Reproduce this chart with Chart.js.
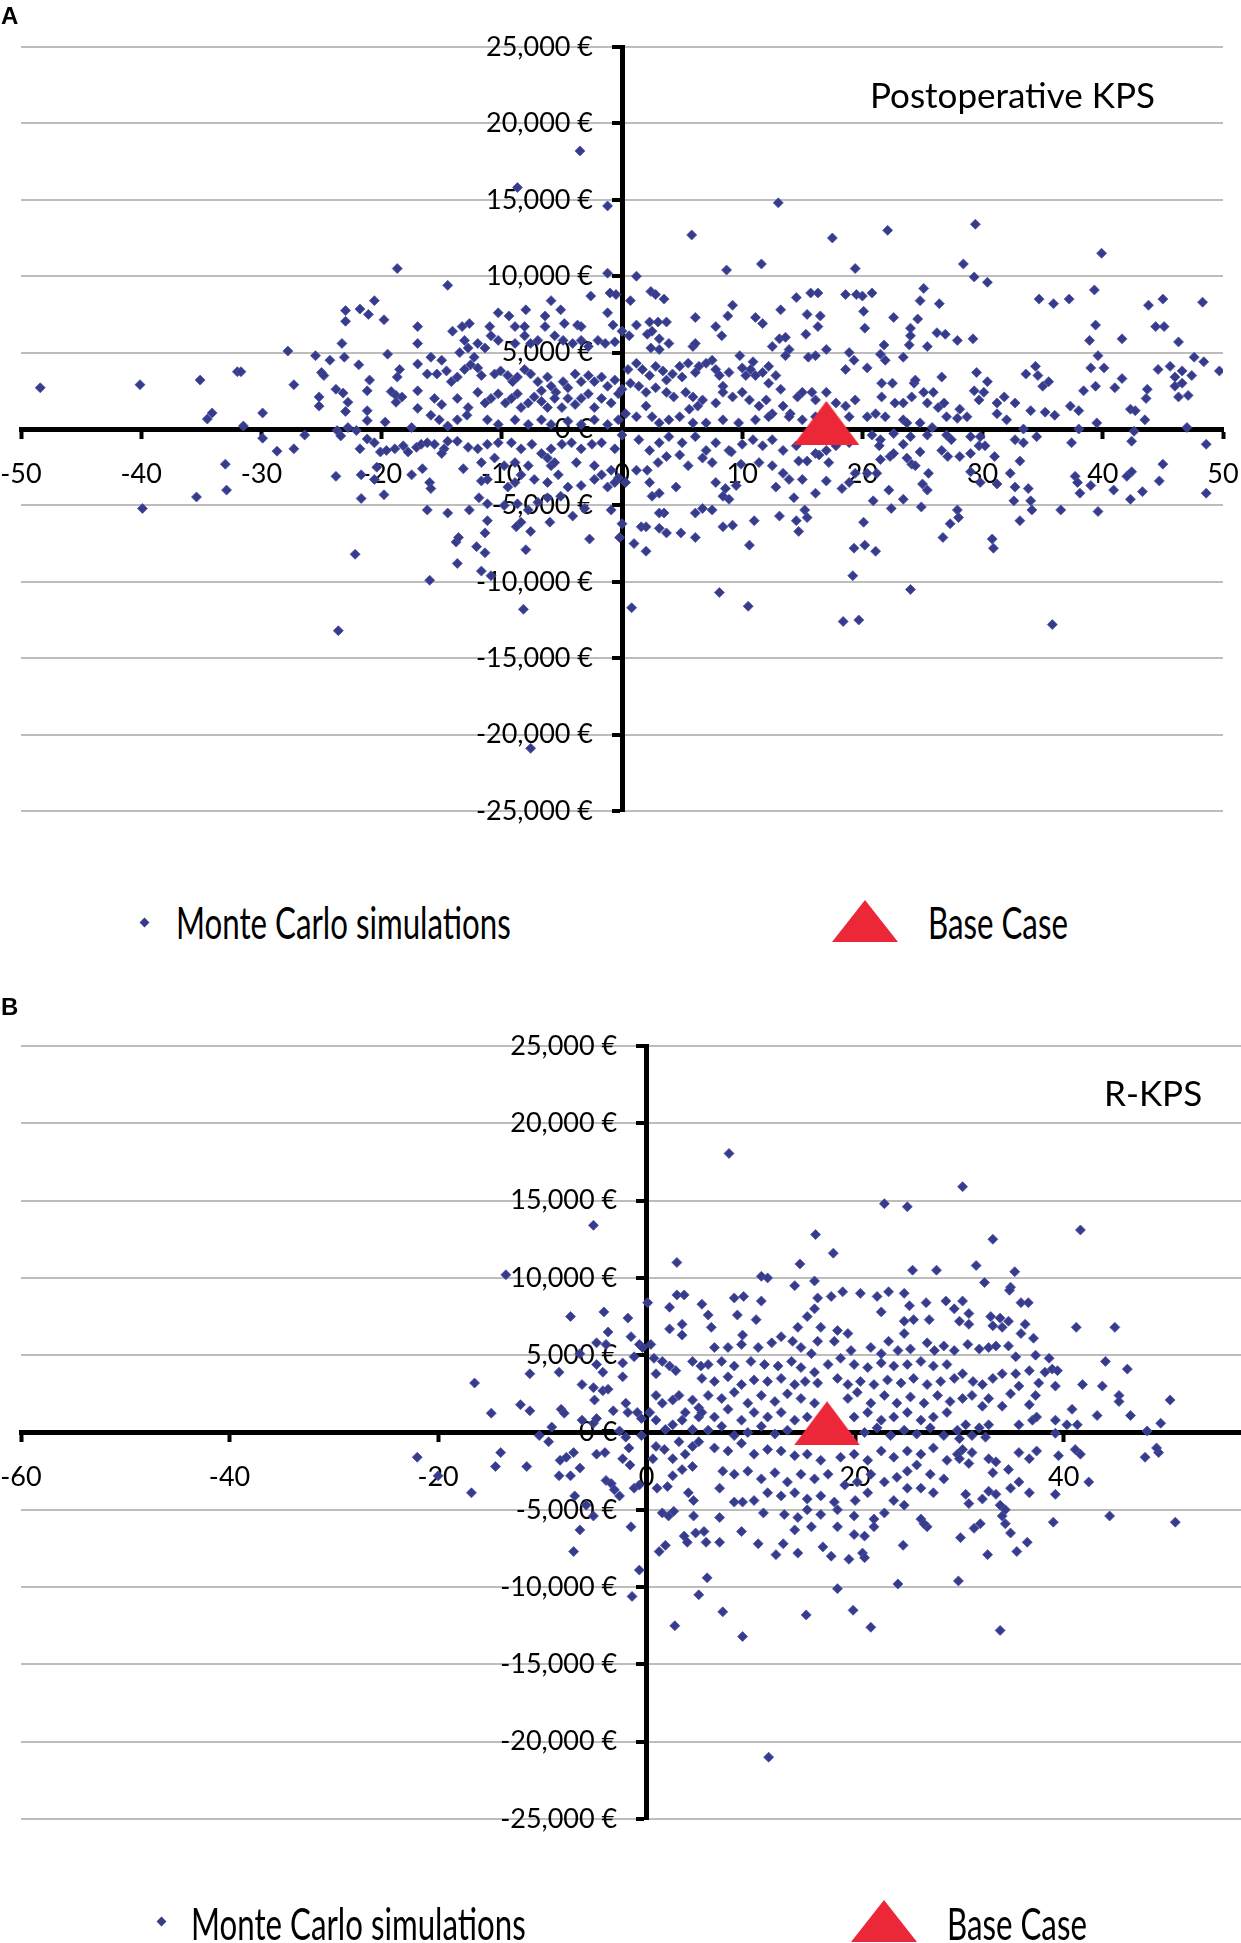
<!DOCTYPE html>
<html>
<head>
<meta charset="utf-8">
<script src="https://cdn.jsdelivr.net/npm/chart.js@4.4.1/dist/chart.umd.min.js"></script>
<style>
  html, body { margin:0; padding:0; background:#fff; }
  body { width:1241px; height:1943px; position:relative; overflow:hidden; font-family: Lato, "Liberation Sans", sans-serif; }
  canvas { position:absolute; left:0; }
  .txt { position:absolute; white-space:nowrap; line-height:1; color:#000; }
  .letter { font-family:"Liberation Sans", Arial, sans-serif; font-weight:bold; font-size:24px; }
  .title { font-family:Lato, sans-serif; font-size:35px; }
  .leg { font-family:Lato, sans-serif; font-size:44px; transform-origin:0 0; transform:scaleX(0.71); }
  .dia { position:absolute; width:7px; height:7px; background:#363b8c; transform:rotate(45deg); }
  svg.tri { position:absolute; }
</style>
</head>
<body>
<canvas id="chartA" width="1241" height="860" style="top:0;width:1241px;height:860px"></canvas>
<canvas id="chartB" width="1241" height="983" style="top:960px;width:1241px;height:983px"></canvas>

<div class="txt letter" style="left:1px;top:4px">A</div>
<div class="txt title" style="left:870px;top:77px">Postoperative KPS</div>
<div class="dia" style="left:141px;top:919px"></div>
<div class="txt leg" style="left:176px;top:900px">Monte Carlo simulations</div>
<svg class="tri" style="left:832px;top:900px" width="66" height="42"><polygon points="33,0 66,42 0,42" fill="#ec2838"/></svg>
<div class="txt leg" style="left:928px;top:900px">Base Case</div>

<div class="txt letter" style="left:1px;top:995px">B</div>
<div class="txt title" style="left:1104px;top:1075px">R-KPS</div>
<div class="dia" style="left:158px;top:1918px"></div>
<div class="txt leg" style="left:191px;top:1901px">Monte Carlo simulations</div>
<svg class="tri" style="left:851px;top:1900px" width="66" height="42"><polygon points="33,0 66,42 0,42" fill="#ec2838"/></svg>
<div class="txt leg" style="left:947px;top:1901px">Base Case</div>

<script>
// ---------- DATA (x = effect difference, y = cost difference in thousand €) ----------
const baseCaseA = [[17.0, 0.4]];
const baseCaseB = [[17.3, 0.6]];

const postopSimsLeft = [
[-48.4,2.7],[-40.1,2.9],[-39.9,-5.2],[-35.1,3.2],[-32,3.75],[-31.7,3.75],[-34.5,0.65],[-34.1,1.05],[-31.5,0.2],[-29.9,1.05],[-29.9,-0.6],[-27.8,5.1],[-27.3,2.9],[-26.4,-0.4],[-27.3,-1.3],[-28.7,-1.45],[-33,-2.3],[-32.9,-4.0],[-35.4,-4.45],[-25.5,4.8],[-24.3,4.5],[-25,3.7],[-24.8,3.5],[-25.2,2.1],[-25.2,1.5],[-23.8,2.6],[-23.2,2.35],[-23.3,5.6],[-23,7.75],[-23,7.05],[-23.1,4.7],[-22.8,1.75],[-23,1.15],[-22.8,0.1],[-23.7,-0.1],[-23.4,-0.45],[-22.1,-0.1],[-21.8,7.85],[-21.1,7.5],[-20.6,8.4],[-19.8,7.15],[-21.9,4.2],[-21,3.2],[-21.2,2.5],[-21.2,1.2],[-21.2,0.55],[-19.5,4.9],[-18.7,10.5],[-18.5,3.9],[-18.7,3.4],[-19.2,2.45],[-18.8,2.2],[-18.3,2.1],[-18.8,1.75],[-19.7,0.45],[-17.5,0.1],[-17,6.7],[-17,5.6],[-17,4.25],[-17,2.5],[-17,1.35],[-21.2,-0.65],[-20.6,-0.9],[-21.8,-1.3],[-20.1,-1.5],[-19.6,-1.4],[-18.9,-1.3],[-18.2,-1.1],[-17.8,-1.5],[-17.1,-1.2],[-20.4,-2.5],[-20.6,-3.3],[-21.7,-3.0],[-23.8,-3.1],[-17.5,-3.0],[-21.7,-4.55],[-19.8,-4.3],[-22.2,-8.2],[-23.6,-13.2]
];
const postopSimsCentreLeft = [
[-3.5,18.2],[-8.7,15.8],[-1.2,14.6],[-14.5,9.4],[-1.2,10.2],[-2.6,8.7],[-1,8.9],[-0.5,8.8],[-5.9,8.4],[-5.1,7.8],[-8,7.8],[-10.3,7.6],[-9.4,7.4],[-1.2,7.6],[-6.4,7.4],[-12.7,6.9],[-14.1,6.4],[-13.3,6.7],[-11,6.7],[-8.9,6.7],[-8.1,6.7],[-4.8,6.9],[-3.7,6.8],[-3.4,6.7],[-6.4,6.7],[-0.75,6.8],
[-10.9,6.1],[-10.3,5.8],[-13.1,5.8],[-12,5.6],[-12.8,5.3],[-12.3,4.7],[-11.4,5.3],[-15.9,4.7],[-15,4.5],[-13.5,5.0],
[-8.1,6.1],[-7.6,5.6],[-7,5.8],[-8.9,5.6],[-5.6,6.1],[-4.9,5.8],[-4.1,5.6],[-3.4,5.8],[-2.8,5.4],[-2,5.8],[-1.4,5.6],[-0.6,5.7],
[-16.2,3.6],[-15.4,3.6],[-14.6,3.8],[-14.2,3.1],[-13.7,3.4],[-13.1,3.9],[-12.6,4.2],[-12,4],[-11.7,3.5],[-10.6,3.6],[-10.1,3.8],[-9.5,3.5],[-9.1,3.1],[-8.7,3.4],
[-8.1,3.9],[-7.6,3.6],[-7,3.1],[-6.7,2.5],[-6.2,3.4],[-5.9,2.8],[-5.5,2.4],[-4.9,3.1],[-4.5,2.7],[-3.9,3.6],[-3.4,3.1],[-2.8,3.5],[-2.3,3.1],[-1.7,3.4],[-1.2,2.8],[-0.6,3.2],
[-15.6,2],[-15,1.6],[-13.7,2],[-12.8,1.4],[-12,2.4],[-11.4,1.7],[-10.9,2],[-10.3,2.3],[-9.7,1.7],[-9.2,2],[-8.7,2.3],[-8.4,1.4],[-7.8,1.7],[-7.3,2.1],[-6.7,1.8],[-6.2,1.4],[-5.6,2],[-5,1.4],[-4.5,2],[-3.9,1.6],[-3.4,2],[-2.8,2.3],[-2.3,1.4],[-1.7,2],[-0.9,1.7],[-0.3,2.3],
[-15.9,0.9],[-15.2,0.6],[-14.5,0.2],[-13.7,0.6],[-12.9,0.9],[-11.2,0.6],[-10.3,0.3],[-8.9,0.6],[-7.8,0.3],[-6.7,0.6],[-5.9,0.3],[-4.5,0.5],[-3.4,0.3],[-2.3,0.6],[-1.2,0.3],[-0.3,0.6],
[-16.7,-1],[-16.2,-0.9],[-15.6,-1],[-14.8,-1.3],[-14.5,-0.8],[-13.7,-0.8],[-12.8,-1.2],[-12,-1.3],[-11.2,-1],[-10.3,-0.9],[-9.2,-0.9],[-8.4,-1.3],[-7.5,-1],[-6.7,-1.6],[-5.9,-1.3],[-5,-1],[-4.2,-0.9],[-3.4,-1.3],[-2.5,-1],[-1.7,-0.9],[-0.6,-1.3],
[-15,-1.6],[-13.2,-2.6],[-11.7,-2.2],[-10.6,-1.9],[-9.8,-2.4],[-8.9,-2.2],[-7.8,-2.4],[-6.2,-1.9],[-5.9,-2.4],[-5.6,-2.2],[-3.8,-2.2],[-2.3,-2.4],[-1.7,-3],[-0.9,-2.7],[-0.3,-3.2],
[-16.6,-2.6],[-16,-3.5],[-15.9,-3.9],
[-11.7,-3.4],[-11.2,-3.3],[-9.5,-3.8],[-8.9,-3.5],[-8.4,-3],[-7.3,-3.3],[-6.2,-3.5],[-5.3,-3],[-4.5,-3.8],[-3.4,-3.7],[-2.3,-3.3],[-1.2,-3.8],[-0.6,-3.5],
[-16.2,-5.3],[-14.5,-5.5],[-12.7,-5.3],[-11.9,-4.5],[-11.2,-4.9],
[-9.8,-5],[-8.7,-4.9],[-7.8,-5.3],[-7,-4.8],[-6.2,-4.5],[-5.1,-4.4],[-4.1,-5.7],[-3.1,-5.2],[-0.9,-5.3],
[-11.2,-6],[-8.8,-6.4],[-8.4,-6.1],[-7.6,-6.7],[-6,-6.1],
[-13.8,-7.4],[-13.6,-7.1],[-11.4,-6.8],[-2.7,-7.2],[-0.2,-7.1],
[-12.1,-7.7],[-11.4,-8.1],[-8,-7.9],
[-13.7,-8.8],[-11.7,-9.3],[-10.9,-9.6],[-16,-9.9],[-8.2,-11.8],[-7.6,-20.9]
];
const postopSimsCentreRight = [
[13,14.8],[5.8,12.7],[17.5,12.5],[8.7,10.4],[11.6,10.8],[19.4,10.5],[1.2,10],[2.4,9],[2.8,8.8],[3.5,8.5],[0.7,8.4],[6.1,7.3],[9.2,8.1],[8.8,7.4],[7.8,6.7],[8.3,6.1],[11.1,7.3],[11.7,6.9],[13.2,7.8],[14.5,8.6],[15.7,8.9],[16.3,8.9],[15.4,7.5],[16.5,7.4],[16.3,6.7],[15.3,6.2],[18.6,8.8],[19.5,8.8],[1.2,6.8],[2.3,7],[3,7],[3.7,7],[2.1,6.2],[2.5,6.4],[3.1,5.9],[0,6.4],[0.6,6.1],[3.9,5.6],[3.1,5.2],[2.4,5.3],[5.9,5.4],[6.1,5.6],[12.5,5.4],[13.1,5.9],[13.6,6],[13.9,5.2],[13.6,4.8],[17,5.2],[18.9,5],[19.3,4.5],[18.6,3.9],[15.5,4.7],[16.1,4.8],[9.8,4.8],
[7.5,4.5],[7.8,3.9],[7,4.3],[6.4,4.1],[6.1,3.7],[5.5,4.3],[4.8,4.1],[5,3.4],
[10.9,4.4],[10.7,3.9],[10,4],[10.3,3.5],[11.1,3.5],[11.7,3.7],[12.2,4.1],[12.8,3.5],[12.2,3],[13.2,2.6],[8.9,3.7],[8.4,2.8],[8.1,3.5],
[0.5,3.9],[1.2,4.3],[1.7,3.9],[2.3,3.5],[2.8,4.1],[3.4,3.8],[3.7,3.2],[4.2,3.6],
[0,2.6],[0.7,3],[1.4,2.8],[2,2.4],[2.8,2.7],[3.7,2.4],[4.3,2.1],
[5.3,2.4],[5.9,2.1],[6.7,1.9],[6.3,1.5],[5.6,1.3],[7.8,1.7],[8.4,2.4],[9.2,2.1],[10,2.4],[10.6,1.9],[11.4,1.5],[12,1.9],[12.5,1],[13.4,1.5],[14,1],[14.6,2.1],[15,2.4],[15.8,2.4],[16.1,1.9],[17,2.4],[17.8,1.7],[18.6,1.5],[19.4,1.9],
[0.3,1],[1.2,0.8],[2,1.5],[2.5,0.8],[3.1,0.4],[3.9,0.6],[4.8,0.8],[5.9,0.4],[7,0.4],[8.4,0.6],[9.7,0.4],[11.1,0.6],[12.2,0.8],[13.9,0.8],[15,0.6],[16.1,0.8],[18.9,0.8],
[0,-0.4],[1.4,-0.7],[2.3,-1.4],[3.1,-0.9],[3.9,-0.5],[5,-0.9],[6.1,-0.5],[7,-1.4],[7.8,-0.9],[8.9,-1.4],[10,-1],[10.9,-0.7],[11.7,-1.1],[12.5,-0.7],[13.4,-1.4],[14.5,-1.1],[16.1,-1.6],[17,-1.4],[17.8,-1.1],[18.9,-0.9],
[1.2,-2.7],[2.1,-2.7],[3,-2.2],[3.7,-1.8],[4.8,-1.7],[5.5,-2.4],[6.7,-1.9],[7.5,-2.2],[9.1,-1.5],[9.9,-2.3],[11.4,-2.2],[12.5,-2.4],[13.4,-2.9],[14.7,-2.1],[15.4,-2.1],[16.4,-1.7],[17.2,-2.2],[18.9,-3.5],[19.4,-2.9],
[0.3,-3.5],[2.3,-3.5],[3.1,-4.2],[4.5,-3.8],[7.8,-3.5],[8.6,-3.9],[9.5,-3.7],[12.8,-3.8],[13.9,-3.3],[15,-3.3],[16.1,-4.2],[17,-3.4],[18.3,-3.9],
[2.5,-4.4],[8.4,-4.4],[8.9,-4.6],[14.3,-4.5],
[3.5,-5.5],[3.1,-5.5],[6.1,-5.5],[6.7,-5.2],[7.5,-5.3],[13.1,-5.7],[14.5,-6],[15.2,-5.3],[15.4,-5.8],
[0,-6.2],[1.6,-6.4],[2,-6.4],[3.1,-6.5],[3.7,-6.8],[4.9,-6.8],[8.4,-6.4],[9.2,-6.3],[11,-6],[14.7,-6.7],
[1,-7.5],[2,-8],[6.1,-7.1],[10.6,-7.6],[19.3,-7.8],
[19.2,-9.6],[8.1,-10.7],[0.8,-11.7],[10.5,-11.6],[18.4,-12.6],[19.7,-12.5]
];
const postopSimsRight = [
[22.1,13],[29.4,13.4],[39.9,11.5],[28.4,10.8],[29.3,9.95],[30.4,9.6],[20.8,8.9],[20,8.7],[20.1,7.7],[20.2,6.6],[25.1,9.2],[24.8,8.4],[22.6,7.3],[24.6,7.2],[26.4,8.2],[24,6.6],[24,6.1],[23.9,5.5],[25.4,5.4],[26.2,6.3],[26.9,6.2],[27.9,5.8],[29.2,5.9],[34.7,8.5],[35.9,8.2],[37.2,8.5],[39.3,9.1],[39.4,6.8],[38.9,5.8],[41.6,5.9],[43.8,8.1],[45,8.5],[44.4,6.7],[45.1,6.7],[46.3,5.7],[48.3,8.3],
[21.8,5.5],[21.5,4.9],[21.9,4.5],[20.4,4],[23.4,4.7],[39.6,4.8],[39,4],[40.1,4],[47.6,4.7],[48.4,4.4],[49.7,3.8],[44.6,3.9],[45.6,4.1],[46.6,3.8],[46,3.4],[47.4,3.5],
[33.6,3.6],[34.4,4.1],[34.6,3.5],[35,2.8],[35.5,3.1],[26.6,3.4],[29.5,3.7],[30.4,3.1],[22.5,3],[21.6,3],[24.3,3],[24.4,3.2],
[29.3,2.5],[30.1,2.4],[29.7,1.9],[31.2,1.7],[31.8,2.1],[32.7,1.7],[25.1,2.4],[25.9,2.4],[25.4,1.7],[24.1,2.1],[23.4,1.7],[22.7,1.7],[21.6,2.1],
[26.8,1.7],[26.3,1.4],[28.1,1.3],[27,0.8],[27.9,0.7],[28.7,0.8],[38.4,2.5],[39.4,2.8],[41,2.7],[41.6,3.3],[43.7,2.6],[43.6,2],[46,2.8],[46.3,2.1],[47.1,2.2],[46.6,3],
[37.3,1.5],[38,1.2],[42.3,1.3],[42.7,1.2],[43.5,0.6],[34,1.2],[35.2,1.1],[36,0.9],
[20.4,0.8],[21.1,1],[21.9,0.8],[23.4,0.6],[24.8,0.4],[23.7,0.4],[25.8,0.1],[31.2,1],[32,0.6],[33.4,0],[38,0],[39.5,0.4],[47,0.1],
[20.8,-0.4],[21.5,-0.7],[22.6,-0.3],[24,-0.5],[25.4,-0.4],[27,-0.4],[27.4,-0.7],[29,-0.5],[29.8,-0.5],[32.7,-0.7],[33.4,-0.9],[34.5,-0.5],[37.4,-0.9],[42.4,-0.8],[42.6,-0.15],
[21.4,-1.1],[23.4,-1],[24.8,-1.5],[26.6,-1.4],[27.1,-1.8],[28.1,-1.8],[29,-1.6],[29.7,-1.1],[30.2,-1.1],[31,-1.8],[48.6,-1],
[21.5,-2],[22.3,-1.8],[23.7,-1.9],[24.1,-2.3],[22.6,-1.6],[24.4,-2.4],[33.1,-2.1],
[21.2,-2.9],[20.4,-2.9],[25.5,-2.9],[25,-3.6],[25.4,-4],[22.2,-4],
[29,-2.8],[29.8,-3.5],[31.2,-3.6],[32.3,-2.9],[32.7,-3.8],[33.8,-3.9],
[37.7,-3.1],[37.9,-3.5],[39,-3.7],[38.1,-4.2],
[40.9,-4],[42,-3.1],[42.4,-2.8],[42.3,-4.6],[43.3,-4.1],[44.7,-3.4],[45,-2.3],[48.6,-4.2],
[20.9,-4.7],[22.4,-5.2],[23.4,-4.6],[24.9,-5.1],
[32.6,-4.7],[34,-4.7],[34.1,-5.3],[33.1,-6],[36.5,-5.3],[39.6,-5.4],
[27.9,-5.3],[28,-5.8],[27.3,-6.2],[26.7,-7.1],
[20.1,-6.1],[20.2,-7.6],[21.1,-8],[30.8,-7.2],[30.9,-7.8],[24,-10.5],[35.8,-12.8]
];

const rkpsSimsLeft = [
[-22,-1.6],[-20,-2.8],[7.9,18.05],[11.7,-21],
[-5.1,13.4],[-13.5,10.2],[2.9,11],[0.1,8.4],[-7.3,7.5],[-4.1,7.8],[-1.8,7.4],[-3.7,6.5],[-16.5,3.2],[-14.9,1.25],[-12.1,1.8],[-11.2,1.4],[-11.2,3.8],[-8.4,3.9],[-6.4,5.1],[-4.8,5.8],[-3.9,5.7],[-4.8,4.4],[-4.2,3.9],[-2.3,4.5],[-2.3,3.6],[-1.5,6.2],[-0.7,5.7],[-1.2,4.9],[-0.4,5.5],[0.4,5.7],
[-6.2,3.1],[-5.1,2.9],[-5,2.1],[-4.2,2.7],[-3.7,2.8],[-8.2,1.5],[-7.9,1.25],[-10.3,-0.2],[-9.4,-0.6],[-9.1,0.35],[-6.2,0.8],[-5.1,0.6],[-4.8,0.9],[-3.2,1.4],[-2,1.9],[-1.8,1.3],[-0.9,1.3],[-0.5,0.9],[-2.6,0.1],[-0.5,-0.2],[-2,-0.3],
[-14,-1.3],[-14.5,-2.2],[-11.5,-2.2],[-16.8,-3.9],[-8.3,-1.8],[-7.7,-1.6],[-7,-1.3],[-8.4,-2.8],[-7.3,-2.8],[-6.4,-2.3],[-4.8,-1.4],[-4,-1.3],[-3.9,-3.1],[-3.4,-3.3],[-3.1,-3.7],[-2.3,-1.7],[-1.6,-2.1],[-1.7,-1],
[-6.9,-4.1],[-5.8,-4.7],[-5.1,-5.4],[-6.4,-6.3],[-1.2,-3.6],[-0.7,-3.4],[-2.6,-4.1],[-1.5,-6.1],[-7,-7.7],[-0.7,-8.9],[-1.4,-10.6],
[2.2,8.1],[2.9,8.9],[3.6,8.9],[2.2,6.7],[3.4,7],[3.4,6.3],[0.7,4.8],[0.9,3.8],[1.5,4.6],[2.2,4.3],[2.8,4],[4.4,4.6],[5.2,4.3],
[0.9,2.4],[1.5,1.9],[2.5,2.1],[3.1,2.4],[3.7,1.3],[4.4,2.1],[5,1.6],[0.3,1.3],[0.9,0.8],[1.8,0.2],[2.5,0.5],[3.4,0.8],[4.4,0.2],[5,1],
[0.9,-0.9],[1.7,-1.1],[2.5,-1.7],[3.1,-0.6],[3.7,-1.4],[4.4,-0.9],[5,-0.6],[0.6,-1.7],[2.5,-2.8],[3.4,-2.4],[4.4,-2.2],
[1,-3.6],[2,-3.5],[4,-3.9],[4.5,-4.4],[1.5,-5.2],[2.1,-5.4],[2.6,-5.1],[4.5,-5.4],[3.6,-6.7],[3.9,-7.1],[4.7,-6.5],[1.2,-7.7],[1.8,-7.3],[5,-10.5],[2.7,-12.5]
];
const rkpsSimsCentre = [
[22.8,14.8],[25,14.6],[16.2,12.8],[17.9,11.6],[14.7,10.9],[11,10.1],[11.6,10],[16.1,9.8],[25.5,10.5],[27.8,10.5],[14.2,9.5],[8.4,8.7],[9.3,8.8],[11,8.5],[16.4,8.7],[17.7,8.8],[18.8,9.1],[20.5,9],[22.1,8.8],[23.2,9.1],[24.7,9],[25.2,8.2],[26.8,8.4],[28.7,8.5],[29.5,8],[5.3,8.3],[5.9,7.6],[6.2,6.8],[8.7,7.6],[10.5,7.3],[22.5,7.8],[15.4,7.5],[16.1,8],[24.7,7.2],[25.6,7.3],[27.1,7.3],
[14.5,6.8],[16.7,6.8],[18.3,6.6],[19.3,6.4],[9.2,6.3],[12.9,6.2],[14,5.9],[16.4,5.9],[18,5.9],[23.2,5.9],[24.7,6.4],[26.9,5.8],[28.5,5.6],
[6.5,5.5],[7.8,5.5],[9.1,5.7],[10.7,5.5],[12,5.8],[14.8,5.5],[15.8,5.1],[19.6,5.3],[21.5,5.5],[22.5,5.1],[24.1,5.3],[25.3,5.4],[27.6,5.3],[29.5,5.3],
[5.9,4.4],[7.2,4.6],[8.4,4.3],[10,4.6],[11.3,4.4],[12.6,4.3],[13.9,4.6],[14.8,4.2],[16.1,3.9],[17.4,4.4],[18.6,4.8],[19.9,4.4],[21.2,4.2],[22.5,4.5],[23.7,4.3],[25,4.4],[26.3,4.6],[27.5,4.3],[28.8,4.4],
[5.3,3.5],[6.5,3.3],[7.8,3.6],[9.1,3.1],[10.3,3.4],[11.6,3.3],[12.9,3.5],[14.2,3.1],[15.2,3.3],[16.4,3.2],[18.3,3.5],[19.3,3.1],[20.5,3.3],[21.8,3.1],[23.1,3.4],[24.4,3.2],[25.6,3.5],[26.9,3.1],[28.2,3.3],[29.5,3.5],
[5.9,2.4],[7.2,2.2],[8.4,2.6],[9.7,1.9],[11,2.4],[12.3,2],[13.5,2.5],[14.8,2.2],[16.1,1.9],[19.3,2.2],[20.2,2.6],[21.5,1.9],[22.8,2.4],[24,1.9],[25.3,2.3],[26.6,1.9],[27.9,2.4],[29.1,2],
[5.3,1.3],[6.5,1],[7.8,1.5],[9.1,0.8],[10.3,1.3],[11.6,1],[12.9,1.3],[14.2,0.8],[15.4,1],[19.9,1],[21.2,1.3],[22.5,0.8],[23.7,1],[25,1.3],[26.3,0.8],[27.5,1],[28.8,1.3],
[5.9,0.15],[7.2,0.4],[8.4,-0.2],[9.7,0],[11,0.4],[12.3,-0.1],[13.5,0.15],[20.9,0],[22.1,0.3],[23.4,-0.2],[24.7,0.15],[25.9,-0.1],[27.2,0.3],[28.5,-0.2],[29.8,0.15],
[6.5,-1],[7.8,-1.2],[9.1,-0.7],[10.3,-1.4],[11.6,-1.1],[12.9,-1.2],[14.2,-1.5],[15.4,-1.4],[16.7,-1.8],[18.6,-1.6],[19.9,-1.4],[21.2,-1.8],[22.5,-1.2],[23.7,-1.6],[25,-1.2],[26.3,-1.4],[27.5,-1],[28.8,-1.8],[29.8,-1.4],
[7.3,-2.5],[8.4,-2.7],[9.7,-2.5],[11,-3],[12.3,-2.6],[13.5,-3.2],[14.8,-2.7],[16.1,-3],[17.4,-2.7],[19,-3.4],[20.2,-3.2],[21.5,-2.7],[22.8,-3.2],[24,-2.9],[25,-2.5],[25.9,-2.1],[27.2,-2.7],[28.5,-3],
[7,-3.6],[8.4,-4.5],[9.2,-4.5],[10.3,-4.4],[11.6,-3.9],[12.9,-4.1],[14.2,-3.9],[15.4,-4.3],[16.7,-4.1],[18,-4.5],[20,-4.4],[21.2,-3.9],[23.7,-4.4],[25,-3.6],[26.3,-3.6],[27.5,-3.9],
[11.2,-5.2],[13.2,-5.3],[14.5,-5.5],[15.4,-5],[16.7,-5.3],[18.3,-5],[19.9,-5.4],[21.8,-5.6],[22.8,-5.2],[24.7,-4.7],[26.3,-5.6],[26.9,-6.1],[26.6,-5.9],
[7,-5.5],[9.1,-6.4],[14.2,-6.3],[15.8,-6.1],[18.3,-6.1],[19.9,-6.6],[20.9,-6.7],[21.8,-6.1],[5.5,-6.4],
[5.7,-7.1],[7,-7.1],[10.7,-7.2],[12.4,-7.9],[13.1,-7.2],[14.5,-7.8],[16.9,-7.4],[17.7,-8],[19.4,-8.2],[20.7,-7.8],[20.9,-8.1],[24.6,-7.3],
[5.8,-9.4],[18.3,-10.1],[24.1,-9.8],[7.3,-11.6],[15.3,-11.8],[19.8,-11.5],[21.5,-12.6],[9.2,-13.2]
];
const rkpsSimsRight = [
[30.3,15.9],[41.6,13.1],[33.2,12.5],[31.6,10.8],[35.3,10.4],[32.4,9.7],[34.9,9.4],[34.8,9.2],[35.9,8.4],[36.6,8.4],[30.3,8.5],[30.9,7.7],[30,7.2],[30.9,7],[33,7.5],[33.9,7.4],[34.7,7.2],[33.2,6.9],[34.1,6.8],[35.9,6.4],[36.3,7],[37.1,6.1],[41.2,6.8],[44.9,6.8],
[30.8,5.7],[31.9,5.4],[32.8,5.5],[33.5,5.6],[34.7,5.6],[35.4,4.9],[37.3,5],[38.6,4.8],[38.9,4.1],[38.2,3.9],[39.4,4],[44,4.6],[46.1,4.1],
[30.3,3.8],[31.3,3.3],[32.2,3.1],[33.2,3.5],[34.1,3.8],[35.4,3.8],[36.7,4],[37.6,3.2],[37.3,2.4],[36.7,1.8],[39.2,3],[41.8,3.1],[43.7,3],[45.3,2.4],[45.3,2],[46.4,1.1],[50.2,2.1],[49.3,0.6],[48,0.1],[43.2,1.1],[40.8,1.5],[39.2,0.8],[40.3,0.5],[41.3,0.5],
[30.3,2.2],[31.2,2.4],[32.2,1.7],[32.8,2.2],[34.1,1.7],[34.9,2.5],[35.7,3],[35.7,0.5],[37,0.8],[37.4,1],
[30.6,0.5],[31.9,0.3],[32.8,0.5],[32.5,-0.3],[31.2,-0.2],[30,-0.4],[39.2,-0.05],
[30.3,-1.1],[31.2,-1.3],[30,-1.7],[30.9,-2],[32.8,-1.7],[33.5,-1.9],[35.7,-1.3],[36.7,-1.7],[37.4,-1.2],[39.5,-1.5],[41.1,-1.1],[41.6,-1.4],[47.8,-1.6],[49.1,-1.3],[48.9,-1],
[33.2,-2.6],[34.7,-2.4],[34.9,-3.6],[35.7,-3.2],[36.7,-3.9],[42.4,-3.2],[39.2,-4],
[30.6,-4],[30.9,-4.6],[32.2,-4.3],[32.8,-3.8],[33.5,-4],[33.9,-4.7],[34.4,-5],[34.1,-5.4],
[31.4,-6.2],[32,-5.9],[34.9,-6.5],[34.4,-5.9],[44.4,-5.4],[39,-5.8],[50.7,-5.8],
[30.1,-6.8],[36.5,-7.1],[35.5,-7.7],[32.7,-7.9],[33.9,-12.8],[29.9,-9.6]
];

// axis ranges / ticks (x = effect, y = thousand €)
// yLabelAt: x value where y tick labels end; xLabelAt: y value (k€) where x tick labels start
const axisA = { xMin:-50, xMax:50, xStep:10, yMin:-25, yMax:25, yStep:5, yLabelAt:-2.41, xLabelAt:-1.9 };
const axisB = { xMin:-60, xMax:57, xStep:20, yMin:-25, yMax:25, yStep:5, yLabelAt:-2.82, xLabelAt:-1.85 };

// ---------- RENDER ----------
const SIM_COLOR = '#363b8c';
const SIM_EDGE = '#4e53a2';
const BASE_COLOR = '#ec2838';
const TICK_FONT = { family: 'Lato, "Liberation Sans", sans-serif', size: 27 };

function triangleImage(w, h) {
  const c = document.createElement('canvas');
  c.width = w; c.height = h;
  const g = c.getContext('2d');
  g.fillStyle = BASE_COLOR;
  g.beginPath(); g.moveTo(w/2, 0); g.lineTo(w, h); g.lineTo(0, h); g.closePath(); g.fill();
  return c;
}
const toPts = arr => arr.map(p => ({ x: p[0], y: p[1] }));
const euro = v => (v === 0 ? '0' : (v * 1000).toLocaleString('en-US')) + ' €';

function makeChart(id, sims, base, ax, pad) {
  Chart.defaults.font.family = TICK_FONT.family;
  return new Chart(document.getElementById(id), {
    type: 'scatter',
    data: { datasets: [
      { label: 'Base Case', data: toPts(base), order: 0, pointStyle: triangleImage(66, 44), pointRadius: 20, pointHoverRadius: 20 },
      { label: 'Monte Carlo simulations', data: toPts(sims), order: 1, pointStyle: 'rectRot', pointRadius: 5, pointHoverRadius: 5,
        backgroundColor: SIM_COLOR, borderColor: SIM_EDGE, borderWidth: 0.8 }
    ]},
    options: {
      responsive: false, animation: false, devicePixelRatio: 1,
      layout: { padding: pad, autoPadding: false },
      plugins: { legend: { display: false }, tooltip: { enabled: false } },
      scales: {
        x: {
          type: 'linear', min: ax.xMin, max: ax.xMax, position: { y: 0 },
          grid: { drawOnChartArea: false, drawTicks: true, tickLength: 7, tickWidth: 4, tickColor: '#000' },
          border: { display: true, color: '#000', width: 5 },
          ticks: { stepSize: ax.xStep, includeBounds: false, display: false, padding: 0 }
        },
        xLabels: {
          type: 'linear', axis: 'x', min: ax.xMin, max: ax.xMax, position: { y: ax.xLabelAt },
          grid: { display: false, drawTicks: false },
          border: { display: false },
          ticks: { stepSize: ax.xStep, includeBounds: false, maxRotation: 0, autoSkip: false, padding: 0, color: '#000', font: TICK_FONT }
        },
        y: {
          type: 'linear', min: ax.yMin, max: ax.yMax, position: { x: 0 },
          grid: { drawOnChartArea: true, color: '#bdbdbd', lineWidth: 2, drawTicks: true, tickLength: 8, tickWidth: 4, tickColor: '#000' },
          border: { display: true, color: '#000', width: 5 },
          ticks: { stepSize: ax.yStep, autoSkip: false, display: false, padding: 0 }
        },
        yLabels: {
          type: 'linear', axis: 'y', min: ax.yMin, max: ax.yMax, position: { x: ax.yLabelAt },
          grid: { display: false, drawTicks: false },
          border: { display: false },
          ticks: { stepSize: ax.yStep, autoSkip: false, padding: 0, color: '#000', font: TICK_FONT, callback: euro }
        }
      }
    }
  });
}

function draw() {
  makeChart('chartA', [...postopSimsLeft, ...postopSimsCentreLeft, ...postopSimsCentreRight, ...postopSimsRight], baseCaseA, axisA,
    { left: 21, right: 18, top: 47, bottom: 49 });
  makeChart('chartB', [...rkpsSimsLeft, ...rkpsSimsCentre, ...rkpsSimsRight], baseCaseB, axisB,
    { left: 21, right: 0, top: 86, bottom: 124 });
}
if (document.fonts && document.fonts.load) {
  Promise.all([document.fonts.load('27px Lato'), document.fonts.load('35px Lato')]).then(draw, draw);
} else { draw(); }
</script>
</body>
</html>
